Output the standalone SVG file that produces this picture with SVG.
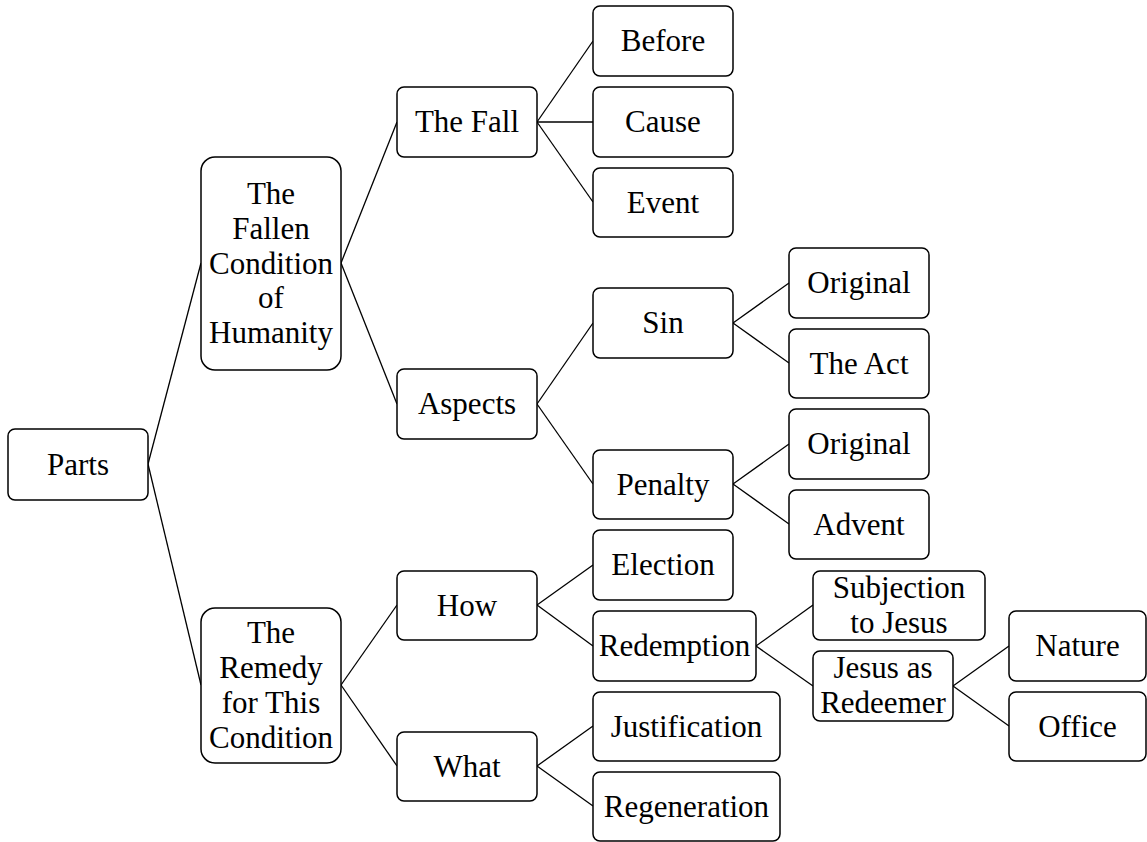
<svg xmlns="http://www.w3.org/2000/svg" width="1147" height="842" viewBox="0 0 1147 842">
<rect width="1147" height="842" fill="#fff"/>
<g id="edges" stroke="#000" stroke-width="1.3">
<line x1="148" y1="464" x2="201" y2="263"/>
<line x1="148" y1="464" x2="201" y2="685"/>
<line x1="341" y1="263" x2="397" y2="122"/>
<line x1="341" y1="263" x2="397" y2="404"/>
<line x1="341" y1="685" x2="397" y2="605"/>
<line x1="341" y1="685" x2="397" y2="766"/>
<line x1="537" y1="122" x2="593" y2="41"/>
<line x1="537" y1="122" x2="593" y2="122"/>
<line x1="537" y1="122" x2="593" y2="202"/>
<line x1="537" y1="404" x2="593" y2="323"/>
<line x1="537" y1="404" x2="593" y2="484"/>
<line x1="537" y1="605" x2="593" y2="565"/>
<line x1="537" y1="605" x2="593" y2="646"/>
<line x1="537" y1="766" x2="593" y2="726"/>
<line x1="537" y1="766" x2="593" y2="806"/>
<line x1="733" y1="323" x2="789" y2="283"/>
<line x1="733" y1="323" x2="789" y2="363"/>
<line x1="733" y1="484" x2="789" y2="444"/>
<line x1="733" y1="484" x2="789" y2="524"/>
<line x1="756" y1="646" x2="813" y2="605"/>
<line x1="756" y1="646" x2="813" y2="686"/>
<line x1="953" y1="686" x2="1009" y2="646"/>
<line x1="953" y1="686" x2="1009" y2="726"/>
</g>
<g id="parts"><rect x="8" y="429" width="140" height="71" rx="7" fill="#fff" stroke="#000" stroke-width="1.5"/><text x="78" y="475" font-size="31" font-family="'Liberation Serif'" text-anchor="middle">Parts</text></g>
<g id="fallen"><rect x="201" y="157" width="140" height="213" rx="14" fill="#fff" stroke="#000" stroke-width="1.5"/><text x="271" y="204" font-size="31" font-family="'Liberation Serif'" text-anchor="middle">The</text><text x="271" y="239" font-size="31" font-family="'Liberation Serif'" text-anchor="middle">Fallen</text><text x="271" y="274" font-size="31" font-family="'Liberation Serif'" text-anchor="middle">Condition</text><text x="271" y="308" font-size="31" font-family="'Liberation Serif'" text-anchor="middle">of</text><text x="271" y="343" font-size="31" font-family="'Liberation Serif'" text-anchor="middle">Humanity</text></g>
<g id="remedy"><rect x="201" y="608" width="140" height="155" rx="14" fill="#fff" stroke="#000" stroke-width="1.5"/><text x="271" y="643" font-size="31" font-family="'Liberation Serif'" text-anchor="middle">The</text><text x="271" y="678" font-size="31" font-family="'Liberation Serif'" text-anchor="middle">Remedy</text><text x="271" y="713" font-size="31" font-family="'Liberation Serif'" text-anchor="middle">for This</text><text x="271" y="748" font-size="31" font-family="'Liberation Serif'" text-anchor="middle">Condition</text></g>
<g id="thefall"><rect x="397" y="87" width="140" height="70" rx="7" fill="#fff" stroke="#000" stroke-width="1.5"/><text x="467" y="132" font-size="31" font-family="'Liberation Serif'" text-anchor="middle">The Fall</text></g>
<g id="aspects"><rect x="397" y="369" width="140" height="70" rx="7" fill="#fff" stroke="#000" stroke-width="1.5"/><text x="467" y="414" font-size="31" font-family="'Liberation Serif'" text-anchor="middle">Aspects</text></g>
<g id="how"><rect x="397" y="571" width="140" height="69" rx="7" fill="#fff" stroke="#000" stroke-width="1.5"/><text x="467" y="616" font-size="31" font-family="'Liberation Serif'" text-anchor="middle">How</text></g>
<g id="what"><rect x="397" y="732" width="140" height="69" rx="7" fill="#fff" stroke="#000" stroke-width="1.5"/><text x="467" y="777" font-size="31" font-family="'Liberation Serif'" text-anchor="middle">What</text></g>
<g id="before"><rect x="593" y="6" width="140" height="70" rx="7" fill="#fff" stroke="#000" stroke-width="1.5"/><text x="663" y="51" font-size="31" font-family="'Liberation Serif'" text-anchor="middle">Before</text></g>
<g id="cause"><rect x="593" y="87" width="140" height="70" rx="7" fill="#fff" stroke="#000" stroke-width="1.5"/><text x="663" y="132" font-size="31" font-family="'Liberation Serif'" text-anchor="middle">Cause</text></g>
<g id="event"><rect x="593" y="168" width="140" height="69" rx="7" fill="#fff" stroke="#000" stroke-width="1.5"/><text x="663" y="213" font-size="31" font-family="'Liberation Serif'" text-anchor="middle">Event</text></g>
<g id="sin"><rect x="593" y="288" width="140" height="70" rx="7" fill="#fff" stroke="#000" stroke-width="1.5"/><text x="663" y="333" font-size="31" font-family="'Liberation Serif'" text-anchor="middle">Sin</text></g>
<g id="penalty"><rect x="593" y="450" width="140" height="69" rx="7" fill="#fff" stroke="#000" stroke-width="1.5"/><text x="663" y="495" font-size="31" font-family="'Liberation Serif'" text-anchor="middle">Penalty</text></g>
<g id="election"><rect x="593" y="530" width="140" height="70" rx="7" fill="#fff" stroke="#000" stroke-width="1.5"/><text x="663" y="575" font-size="31" font-family="'Liberation Serif'" text-anchor="middle">Election</text></g>
<g id="redemption"><rect x="593" y="611" width="163" height="70" rx="7" fill="#fff" stroke="#000" stroke-width="1.5"/><text x="674.5" y="656" font-size="31" font-family="'Liberation Serif'" text-anchor="middle">Redemption</text></g>
<g id="justification"><rect x="593" y="692" width="187" height="69" rx="7" fill="#fff" stroke="#000" stroke-width="1.5"/><text x="686.5" y="737" font-size="31" font-family="'Liberation Serif'" text-anchor="middle">Justification</text></g>
<g id="regeneration"><rect x="593" y="772" width="187" height="69" rx="7" fill="#fff" stroke="#000" stroke-width="1.5"/><text x="686.5" y="817" font-size="31" font-family="'Liberation Serif'" text-anchor="middle">Regeneration</text></g>
<g id="original1"><rect x="789" y="248" width="140" height="70" rx="7" fill="#fff" stroke="#000" stroke-width="1.5"/><text x="859" y="293" font-size="31" font-family="'Liberation Serif'" text-anchor="middle">Original</text></g>
<g id="theact"><rect x="789" y="329" width="140" height="69" rx="7" fill="#fff" stroke="#000" stroke-width="1.5"/><text x="859" y="374" font-size="31" font-family="'Liberation Serif'" text-anchor="middle">The Act</text></g>
<g id="original2"><rect x="789" y="409" width="140" height="70" rx="7" fill="#fff" stroke="#000" stroke-width="1.5"/><text x="859" y="454" font-size="31" font-family="'Liberation Serif'" text-anchor="middle">Original</text></g>
<g id="advent"><rect x="789" y="490" width="140" height="69" rx="7" fill="#fff" stroke="#000" stroke-width="1.5"/><text x="859" y="535" font-size="31" font-family="'Liberation Serif'" text-anchor="middle">Advent</text></g>
<g id="subjection"><rect x="813" y="571" width="172" height="69" rx="7" fill="#fff" stroke="#000" stroke-width="1.5"/><text x="899" y="598" font-size="31" font-family="'Liberation Serif'" text-anchor="middle">Subjection</text><text x="899" y="633" font-size="31" font-family="'Liberation Serif'" text-anchor="middle">to Jesus</text></g>
<g id="jesus"><rect x="813" y="651" width="140" height="70" rx="7" fill="#fff" stroke="#000" stroke-width="1.5"/><text x="883" y="678" font-size="31" font-family="'Liberation Serif'" text-anchor="middle">Jesus as</text><text x="883" y="713" font-size="31" font-family="'Liberation Serif'" text-anchor="middle">Redeemer</text></g>
<g id="nature"><rect x="1009" y="611" width="137" height="70" rx="7" fill="#fff" stroke="#000" stroke-width="1.5"/><text x="1077.5" y="656" font-size="31" font-family="'Liberation Serif'" text-anchor="middle">Nature</text></g>
<g id="office"><rect x="1009" y="692" width="137" height="69" rx="7" fill="#fff" stroke="#000" stroke-width="1.5"/><text x="1077.5" y="737" font-size="31" font-family="'Liberation Serif'" text-anchor="middle">Office</text></g>
</svg>
